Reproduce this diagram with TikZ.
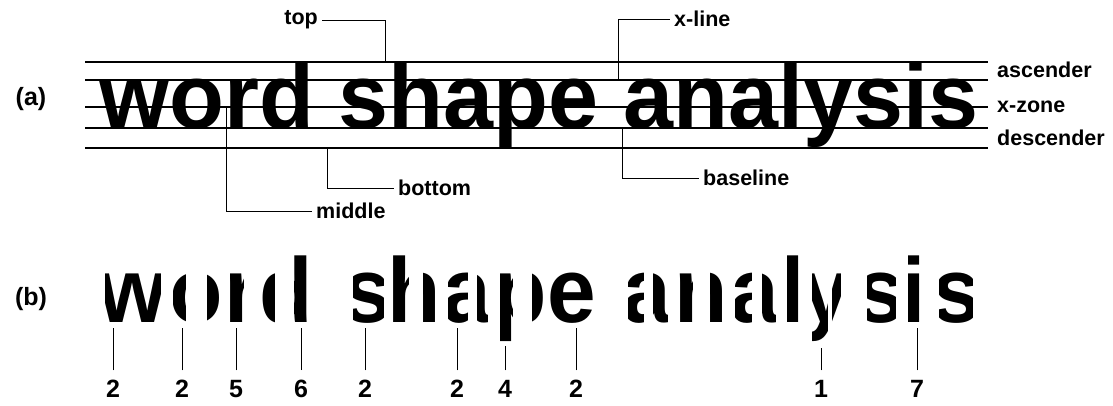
\documentclass[tikz,border=0pt]{standalone}
\usepackage{fontspec}
\setmainfont{Liberation Sans}
\usetikzlibrary{positioning}
\begin{document}
\begin{tikzpicture}[x=1pt,y=-1pt,
        big/.style={font=\fontsize{92}{92}\selectfont\bfseries, inner sep=0pt,
                    anchor=base west, transform shape},
        lbl/.style={font=\fontsize{21.5}{22}\selectfont\bfseries, inner sep=4pt},
        part/.style={font=\fontsize{25}{26}\selectfont\bfseries},
        num/.style={font=\fontsize{25}{26}\selectfont\bfseries, inner sep=0pt,
                    outer ysep=10pt},
        bound/.style={line width=2.6pt},
        zone/.style={line width=1.3pt},
        lead/.style={line width=1pt}]
  \path[fill=white] (0,0) rectangle (1113,405);
  \node[part] (a) at (31,99) {(a)};
  \node[part] (b) at (31,299) {(b)};
  \draw[bound] (85,62) -- (988,62);
  \draw[zone] (85,80) -- (988,80);
  \draw[zone] (85,107) -- (988,107);
  \draw[zone] (85,128) -- (988,128);
  \draw[bound] (85,148) -- (988,148);
  \node[big, xscale=0.977] (whole) at (99,128) {word shape analysis};
  \node[lbl, anchor=west] (asc) at (993,70) {ascender};
  \node[lbl, anchor=west] (xzone) at (993,107) {x-zone};
  \node[lbl, anchor=west] (desc) at (993,138) {descender};
  \node[lbl, anchor=east] (top) at (322,20) {top};
  \coordinate (top end) at (385,62);
  \draw[lead] (top.east) -| (top end);
  \node[lbl, anchor=west] (xline) at (670,19) {x-line};
  \coordinate (xline end) at (618,80);
  \draw[lead] (xline end) |- (xline.west);
  \node[lbl, anchor=west] (bottom) at (394,188) {bottom};
  \coordinate (bottom end) at (327,148);
  \draw[lead] (bottom end) |- (bottom.west);
  \node[lbl, anchor=west] (middle) at (312,211) {middle};
  \coordinate (middle end) at (226,107);
  \draw[lead] (middle end) |- (middle.west);
  \node[lbl, anchor=west] (baseline) at (699,178) {baseline};
  \coordinate (baseline end) at (622,128);
  \draw[lead] (baseline end) |- (baseline.west);
  \begin{scope}
    \clip foreach \l/\r in {105/160, 173/185, 207/220, 230/243, 262/274, 294/307,
        353/383, 393/408, 423/435, 448/467, 477/487, 500/512, 532/543, 550/593,
        628/643, 653/667, 678/692, 710/725, 735/751, 762/775, 787/799, 812/827,
        832/840, 867/895, 908/920, 939/972} {(\l,250) rectangle (\r,358)};
    \foreach \c/\x [count=\j] in {w/98.5, o/169.8, r/224.4, d/259.3, s/343.8,
        h/387.3, a/442.6, p/493.3, e/547.2, a/622.6, n/674.8, a/730.1, l/780.7,
        y/801.7, s/855.8, i/901.7, s/931.8}
      \node[big, xscale=0.95] (g\j) at (\x,322.5) {\c};
  \end{scope}
  \foreach \x/\t/\n [count=\i] in {113/328/2, 182/328/2, 236/328/5, 301/328/6,
      365/328/2, 457/328/2, 505/346/4, 576/328/2, 821/348/1, 917/328/7} {
    \node[num] (n\i) at (\x,389) {\n};
    \coordinate (t\i) at (\x,\t);
    \draw[lead] (n\i.north) -- (t\i);
  }
\end{tikzpicture}
\end{document}
